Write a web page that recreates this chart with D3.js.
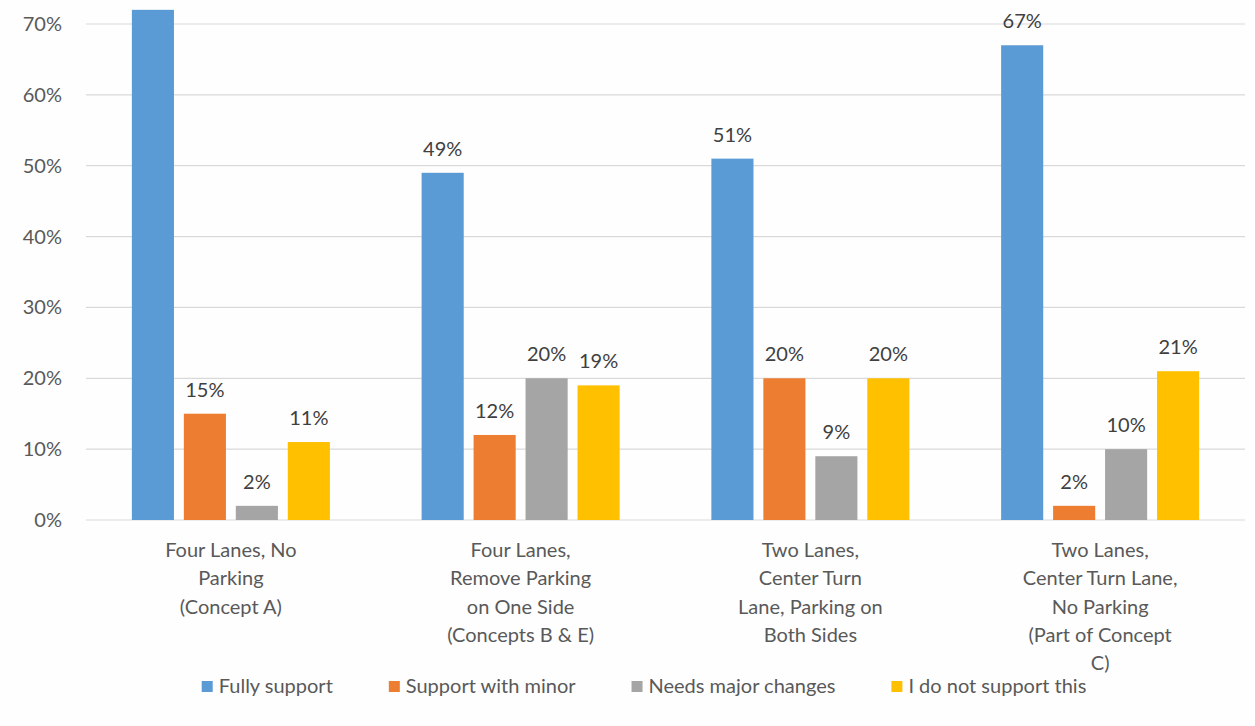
<!DOCTYPE html>
<html>
<head>
<meta charset="utf-8">
<script src="https://cdn.jsdelivr.net/npm/d3@7"></script>
<style>
  body { margin: 0; background: #fefefe; }
  svg { display: block; font-family: Lato, "Open Sans", sans-serif; }
</style>
</head>
<body>
<svg id="canvas"></svg>
<script>
// data
const categories = ["Concept A", "Concepts B & E", "Both Sides", "Concept C"];
const categoryLines = [
  ["Four Lanes, No", "Parking", "(Concept A)"],
  ["Four Lanes,", "Remove Parking", "on One Side", "(Concepts B & E)"],
  ["Two Lanes,", "Center Turn", "Lane, Parking on", "Both Sides"],
  ["Two Lanes,", "Center Turn Lane,", "No Parking", "(Part of Concept", "C)"]
];
const seriesNames = ["Fully support", "Support with minor", "Needs major changes", "I do not support this"];
const fullySupport = [72, 49, 51, 67];
const supportMinor = [15, 12, 20, 2];
const needsMajor = [2, 20, 9, 10];
const notSupport = [11, 19, 20, 21];
const yTicks = [0, 10, 20, 30, 40, 50, 60, 70];

const allSeries = [fullySupport, supportMinor, needsMajor, notSupport];
const colors = ["#5b9bd5", "#ed7d31", "#a5a5a5", "#ffc000"];

const width = 1255, height = 726;
const svg = d3.select("#canvas").attr("width", width).attr("height", height);

// plot area
const marginLeft = 86, marginRight = 10;
const y0 = 520, y70 = 24;

const x0 = d3.scaleBand()
  .domain(categories)
  .range([marginLeft, width - marginRight])
  .paddingInner(0.3166)
  .paddingOuter(0.1583);

const x1 = d3.scaleBand()
  .domain(seriesNames)
  .range([0, x0.bandwidth()])
  .paddingInner(0.19)
  .paddingOuter(0);

const yScale = d3.scaleLinear().domain([0, 70]).range([y0, y70]);

// gridlines
svg.append("g")
  .selectAll("line")
  .data(yTicks)
  .join("line")
    .attr("x1", marginLeft)
    .attr("x2", width - marginRight)
    .attr("y1", d => yScale(d))
    .attr("y2", d => yScale(d))
    .attr("stroke", "#d9d9d9")
    .attr("stroke-width", 1.2);

// y labels
svg.append("g")
  .selectAll("text")
  .data(yTicks)
  .join("text")
    .attr("x", 62)
    .attr("y", d => yScale(d))
    .attr("dy", "0.35em")
    .attr("text-anchor", "end")
    .attr("fill", "#595959")
    .attr("font-size", 20)
    .text(d => d + "%");

// bars
const groups = svg.append("g")
  .selectAll("g")
  .data(categories)
  .join("g")
    .attr("transform", d => `translate(${x0(d)},0)`);

const barData = (c, ci) => seriesNames.map((s, si) => ({ s, si, v: allSeries[si][ci] }));

groups.selectAll("rect")
  .data(barData)
  .join("rect")
    .attr("x", d => x1(d.s))
    .attr("y", d => yScale(d.v))
    .attr("width", x1.bandwidth())
    .attr("height", d => yScale(0) - yScale(d.v))
    .attr("fill", d => colors[d.si]);

// value labels (the one above the top edge is cropped away in the original)
const labelOff = 17;
groups.selectAll("text")
  .data((c, ci) => barData(c, ci).filter(d => yScale(d.v) - labelOff > 18))
  .join("text")
    .attr("x", d => x1(d.s) + x1.bandwidth() / 2)
    .attr("y", d => yScale(d.v) - labelOff)
    .attr("text-anchor", "middle")
    .attr("fill", "#404040")
    .attr("font-size", 20)
    .text(d => d.v + "%");

// x labels
const xl = svg.append("g")
  .selectAll("text")
  .data(categories)
  .join("text")
    .attr("x", d => x0(d) + x0.bandwidth() / 2)
    .attr("y", 557)
    .attr("text-anchor", "middle")
    .attr("fill", "#595959")
    .attr("font-size", 20);

xl.selectAll("tspan")
  .data((d, i) => categoryLines[i])
  .join("tspan")
    .attr("x", function() { return this.parentNode.getAttribute("x"); })
    .attr("dy", (d, i) => i === 0 ? 0 : 28.3)
    .text(d => d);

// legend
const legendGap = 56;
const legend = svg.append("g");
const items = legend.selectAll("g")
  .data(seriesNames)
  .join("g");
items.append("rect")
  .attr("width", 11).attr("height", 11)
  .attr("y", -5)
  .attr("fill", (d, i) => colors[i]);
items.append("text")
  .attr("x", 17)
  .attr("dy", "0.35em")
  .attr("fill", "#595959")
  .attr("font-size", 20)
  .text(d => d);

let lx = 0;
const pos = [];
items.each(function() {
  pos.push(lx);
  const w = d3.select(this).select("text").node().getComputedTextLength();
  lx += 17 + w + legendGap;
});
const totalW = lx - legendGap;
const startX = 644 - totalW / 2;
items.attr("transform", (d, i) => `translate(${startX + pos[i]},686)`);
</script>
</body>
</html>
